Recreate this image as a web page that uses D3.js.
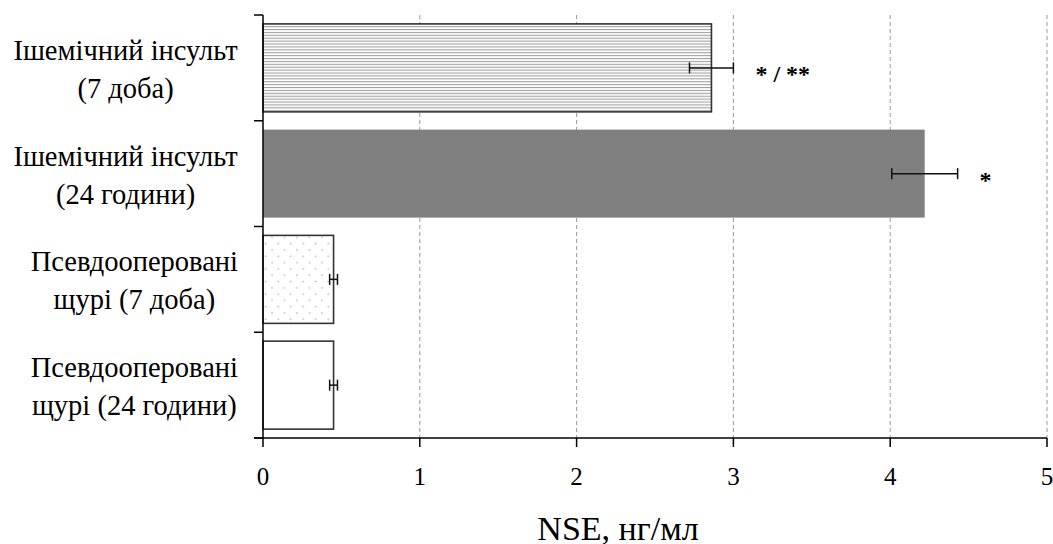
<!DOCTYPE html>
<html><head><meta charset="utf-8">
<script src="https://cdn.jsdelivr.net/npm/d3@7"></script>
<style>html,body{margin:0;padding:0;background:#fff;}svg{display:block;}</style>
</head><body>
<svg id="chart" width="1053" height="544"></svg>
<script>
const categories = [
  ["Ішемічний інсульт", "(7 доба)"],
  ["Ішемічний інсульт", "(24 години)"],
  ["Псевдооперовані", "щурі (7 доба)"],
  ["Псевдооперовані", "щурі (24 години)"]
];
const means = [2.86, 4.22, 0.45, 0.45];
const errors = [0.14, 0.21, 0.025, 0.025];
const marks = ["* / **", "*", "", ""];
const fills = ["url(#stripes)", "#808080", "url(#dots)", "#ffffff"];
const xTicks = [0, 1, 2, 3, 4, 5];
const xTitle = "NSE, нг/мл";

const svg = d3.select("#chart");
const font = "Liberation Serif, Times New Roman, serif";

const defs = svg.append("defs");
const st = defs.append("pattern").attr("id", "stripes").attr("patternUnits", "userSpaceOnUse")
  .attr("width", 8).attr("height", 2.9);
st.append("rect").attr("width", 8).attr("height", 2.9).attr("fill", "#fff");
st.append("rect").attr("y", 0).attr("width", 8).attr("height", 1.1).attr("fill", "#a0a0a0");
const dt = defs.append("pattern").attr("id", "dots").attr("patternUnits", "userSpaceOnUse")
  .attr("width", 12.5).attr("height", 12.6).attr("x", 270).attr("y", 248);
dt.append("rect").attr("width", 12.5).attr("height", 12.6).attr("fill", "#fff");
dt.append("circle").attr("cx", 2).attr("cy", 2).attr("r", 0.8).attr("fill", "#aaa");
dt.append("circle").attr("cx", 8.25).attr("cy", 8.3).attr("r", 0.8).attr("fill", "#aaa");

const x = d3.scaleLinear().domain([0, 5]).range([263, 1047]);
const y = d3.scaleBand().domain(d3.range(categories.length)).range([15, 438])
  .paddingInner(0.168).paddingOuter(0.084);
const step = y.step();
const bandStart = i => y(i) - y.paddingInner() * step / 2;

// gridlines
svg.append("g").selectAll("line").data(xTicks.filter(d => d > 0)).join("line")
  .attr("x1", d => x(d)).attr("x2", d => x(d)).attr("y1", 15).attr("y2", 438)
  .attr("stroke", "#999").attr("stroke-width", 1).attr("stroke-dasharray", "4,3");

// bars
svg.append("g").selectAll("rect").data(means).join("rect")
  .attr("x", x(0)).attr("y", (d, i) => y(i))
  .attr("width", d => x(d) - x(0)).attr("height", y.bandwidth())
  .attr("fill", (d, i) => fills[i])
  .attr("stroke", (d, i) => i === 1 ? "none" : "#333")
  .attr("stroke-width", 1.6);

// error bars
const eb = svg.append("g").attr("stroke", "#111").attr("stroke-width", 1.5);
means.forEach((m, i) => {
  const cy = y(i) + y.bandwidth() / 2;
  const x1 = x(m - errors[i]), x2 = x(m + errors[i]);
  eb.append("line").attr("x1", x1).attr("x2", x2).attr("y1", cy).attr("y2", cy);
  eb.append("line").attr("x1", x1).attr("x2", x1).attr("y1", cy - 5.5).attr("y2", cy + 5.5);
  eb.append("line").attr("x1", x2).attr("x2", x2).attr("y1", cy - 5.5).attr("y2", cy + 5.5);
  if (marks[i]) {
    svg.append("text").attr("x", x2 + 22).attr("y", cy + 14)
      .attr("font-family", font).attr("font-size", 24).attr("font-weight", "bold")
      .attr("fill", "#000").text(marks[i]);
  }
});

// y axis
const ya = svg.append("g").attr("stroke", "#000").attr("stroke-width", 1.5);
ya.append("line").attr("x1", x(0)).attr("x2", x(0)).attr("y1", 15).attr("y2", 438);
d3.range(categories.length + 1).forEach(i => {
  const yy = i < categories.length ? bandStart(i) : 438;
  ya.append("line").attr("x1", x(0) - 9).attr("x2", x(0)).attr("y1", yy).attr("y2", yy);
});

// x axis
const xa = svg.append("g").attr("stroke", "#000").attr("stroke-width", 1.5);
xa.append("line").attr("x1", x(0) - 9).attr("x2", x(5)).attr("y1", 438).attr("y2", 438);
xa.selectAll(".t").data(xTicks).join("line")
  .attr("x1", d => x(d)).attr("x2", d => x(d)).attr("y1", 438).attr("y2", 447);
svg.append("g").selectAll("text").data(xTicks).join("text")
  .attr("x", d => x(d)).attr("y", 485).attr("text-anchor", "middle")
  .attr("font-family", font).attr("font-size", 25).attr("fill", "#000").text(d => d);

// category labels
const lg = svg.append("g");
categories.forEach((lines, i) => {
  const cy = y(i) + y.bandwidth() / 2;
  const t = lg.append("text").attr("text-anchor", "middle")
    .attr("font-family", font).attr("font-size", 28.5).attr("fill", "#000");
  lines.forEach((l, j) => t.append("tspan").attr("x", 0).attr("y", cy + 11 + (j - 0.5) * 38).text(l));
  const w = t.node().getBBox().width;
  t.selectAll("tspan").attr("x", 238 - w / 2);
});

svg.append("text").attr("x", 618).attr("y", 540).attr("text-anchor", "middle")
  .attr("font-family", font).attr("font-size", 34).attr("fill", "#000").text(xTitle);
</script>
</body></html>
